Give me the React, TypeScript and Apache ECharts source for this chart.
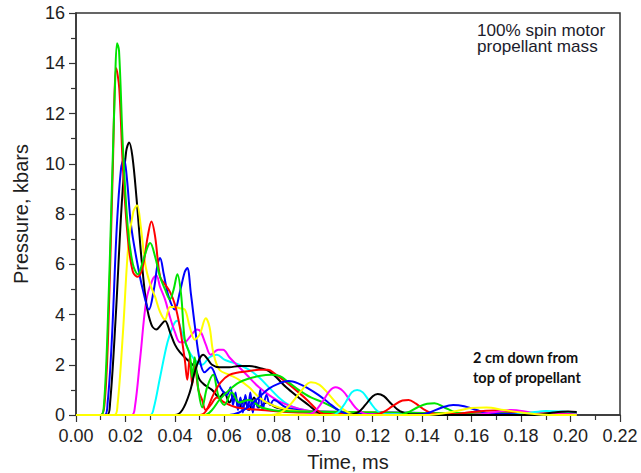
import React, { useEffect, useRef } from "react";
import * as echarts from "echarts";

// ---- data: [time (ms), pressure (kbars)] ----
const red1 = [[0,0],[0.0100,0],[0.0115,0.4],[0.0130,3.2],[0.0148,9.5],[0.0163,13.8],[0.0175,13.0],[0.0190,9.8],[0.0210,7.0],[0.0230,5.7],[0.0250,5.5],[0.0270,5.9],[0.0290,7.1],[0.0305,7.7],[0.0320,7.1],[0.0340,5.5],[0.0360,5.2],[0.0380,4.9],[0.0400,4.4],[0.0420,3.5],[0.0440,2.2],[0.0450,1.4],[0.0460,2.3],[0.0470,1.2],[0.0480,2.0],[0.0495,1.0],[0.0510,0.6],[0.0525,0.2],[0.0545,0.4],[0.0570,0.7],[0.0600,0.5],[0.0650,0.3],[0.0750,0.2],[0.0900,0.1],[0.2025,0.05]];
const green1 = [[0,0],[0.0100,0],[0.0113,0.4],[0.0128,3.5],[0.0145,9.0],[0.0158,13.2],[0.0166,14.8],[0.0174,14.5],[0.0190,10.6],[0.0210,7.4],[0.0230,6.0],[0.0250,5.6],[0.0270,6.1],[0.0290,6.7],[0.0300,6.85],[0.0320,6.3],[0.0340,5.5],[0.0360,5.0],[0.0380,4.6],[0.0395,5.0],[0.0410,5.6],[0.0425,4.8],[0.0440,3.0],[0.0460,2.4],[0.0470,1.5],[0.0480,2.3],[0.0495,1.0],[0.0510,0.3],[0.0530,1.1],[0.0555,1.6],[0.0575,0.8],[0.0600,0.4],[0.0630,0.9],[0.0660,0.5],[0.0700,0.6],[0.0750,0.3],[0.0850,0.15],[0.2025,0.05]];
const blue1 = [[0,0],[0.0115,0],[0.0128,0.5],[0.0145,3.0],[0.0165,7.5],[0.0182,9.8],[0.0194,10.2],[0.0206,9.4],[0.0222,7.6],[0.0245,6.2],[0.0270,5.0],[0.0295,4.2],[0.0315,5.0],[0.0330,6.0],[0.0340,6.25],[0.0355,5.6],[0.0375,4.7],[0.0400,4.2],[0.0420,4.9],[0.0440,5.7],[0.0450,5.85],[0.0465,4.8],[0.0480,3.6],[0.0500,2.2],[0.0520,1.7],[0.0545,1.9],[0.0570,1.4],[0.0590,1.0],[0.0610,0.8],[0.0625,1.1],[0.0635,0.4],[0.0645,0.9],[0.0655,0.2],[0.0665,0.7],[0.0675,0.1],[0.0685,0.8],[0.0695,0.2],[0.0705,0.9],[0.0715,0.1],[0.0725,0.6],[0.0735,0.3],[0.0745,1.0],[0.0755,0.2],[0.0770,0.8],[0.0785,0.4],[0.0800,0.6],[0.0850,0.3],[0.0950,0.15],[0.2025,0.05]];
const black1 = [[0,0],[0.0125,0],[0.0138,0.5],[0.0160,3.8],[0.0185,8.4],[0.0203,10.5],[0.0215,10.85],[0.0228,10.3],[0.0245,8.6],[0.0265,6.2],[0.0285,4.4],[0.0305,3.6],[0.0325,3.4],[0.0345,3.6],[0.0360,3.75],[0.0380,3.3],[0.0400,2.8],[0.0420,2.5],[0.0450,2.2],[0.0480,1.9],[0.0500,1.4],[0.0520,1.2],[0.0550,1.0],[0.0580,0.7],[0.0600,0.9],[0.0620,0.5],[0.0640,0.8],[0.0660,0.3],[0.0680,0.6],[0.0700,0.2],[0.0720,0.7],[0.0740,0.3],[0.0770,0.5],[0.0810,0.3],[0.0900,0.15],[0.2025,0.05]];
const yellow1 = [[0,0],[0.0155,0],[0.0168,0.4],[0.0190,3.3],[0.0212,6.8],[0.0232,8.1],[0.0247,8.35],[0.0262,7.5],[0.0280,6.0],[0.0300,5.2],[0.0320,4.7],[0.0340,4.1],[0.0360,3.8],[0.0380,4.3],[0.0400,4.3],[0.0420,4.25],[0.0440,4.2],[0.0460,3.5],[0.0480,3.0],[0.0500,3.2],[0.0525,3.85],[0.0540,3.5],[0.0555,2.5],[0.0580,1.8],[0.0620,1.6],[0.0660,1.4],[0.0700,1.1],[0.0730,0.8],[0.0770,0.5],[0.0820,0.3],[0.0900,0.15],[0.2025,0.05]];
const magenta1 = [[0,0],[0.0225,0],[0.0238,0.3],[0.0260,2.3],[0.0285,4.6],[0.0310,5.4],[0.0325,5.55],[0.0340,5.1],[0.0360,4.6],[0.0380,3.9],[0.0400,3.3],[0.0420,2.9],[0.0440,2.9],[0.0460,3.1],[0.0490,3.4],[0.0505,3.3],[0.0525,2.8],[0.0545,2.4],[0.0575,2.6],[0.0595,2.6],[0.0620,2.3],[0.0660,1.9],[0.0700,1.5],[0.0740,1.1],[0.0780,0.8],[0.0830,0.5],[0.0900,0.25],[0.1000,0.1],[0.2025,0.05]];
const cyan1 = [[0,0],[0.0300,0],[0.0315,0.3],[0.0340,1.5],[0.0370,2.9],[0.0395,3.6],[0.0410,3.75],[0.0425,3.4],[0.0445,2.8],[0.0465,2.4],[0.0490,2.1],[0.0510,2.0],[0.0540,2.3],[0.0570,2.4],[0.0600,2.2],[0.0630,2.1],[0.0660,2.0],[0.0700,1.8],[0.0740,1.5],[0.0780,1.1],[0.0820,0.7],[0.0860,0.4],[0.0900,0.25],[0.1000,0.1],[0.2025,0.05]];
const black2 = [[0,0],[0.0400,0],[0.0430,0.2],[0.0460,0.9],[0.0480,1.7],[0.0500,2.25],[0.0515,2.4],[0.0530,2.25],[0.0550,2.0],[0.0580,1.9],[0.0620,1.9],[0.0660,1.95],[0.0700,1.95],[0.0750,1.85],[0.0780,1.75],[0.0810,1.5],[0.0850,1.1],[0.0900,0.7],[0.0940,0.4],[0.0980,0.1],[0.1010,0.03],[0.2025,0.03]];
const red2 = [[0,0],[0.0500,0],[0.0525,0.15],[0.0555,0.8],[0.0585,1.3],[0.0620,1.6],[0.0660,1.7],[0.0700,1.75],[0.0740,1.8],[0.0775,1.8],[0.0810,1.6],[0.0850,1.3],[0.0900,0.9],[0.0940,0.55],[0.0970,0.25],[0.1000,0.05],[0.2025,0.03]];
const green2 = [[0,0],[0.0520,0],[0.0550,0.2],[0.0580,0.6],[0.0620,1.0],[0.0660,1.3],[0.0700,1.45],[0.0740,1.55],[0.0790,1.6],[0.0825,1.55],[0.0860,1.3],[0.0900,1.0],[0.0950,0.7],[0.1000,0.5],[0.1040,0.3],[0.1080,0.12],[0.1120,0.04],[0.2025,0.03]];
const blue2 = [[0,0],[0.0620,0],[0.0660,0.1],[0.0700,0.35],[0.0740,0.7],[0.0780,1.05],[0.0820,1.25],[0.0860,1.35],[0.0900,1.25],[0.0940,1.05],[0.0980,0.8],[0.1020,0.5],[0.1060,0.2],[0.1100,0.05],[0.2025,0.03]];
const yellow2 = [[0,0],[0.0790,0],[0.0830,0.1],[0.0870,0.45],[0.0910,0.95],[0.0950,1.3],[0.0985,1.2],[0.1020,0.85],[0.1060,0.4],[0.1100,0.1],[0.1130,0],[0.2025,0]];
const magenta2 = [[0,0],[0.0920,0],[0.0960,0.1],[0.0995,0.5],[0.1025,0.95],[0.1050,1.1],[0.1080,0.95],[0.1110,0.55],[0.1140,0.2],[0.1180,0.03],[0.2025,0.03]];
const cyan2 = [[0,0],[0.1030,0],[0.1060,0.1],[0.1090,0.5],[0.1115,0.9],[0.1137,1.0],[0.1160,0.9],[0.1190,0.5],[0.1220,0.15],[0.1260,0.03],[0.2025,0.03]];
const black3 = [[0,0],[0.1100,0],[0.1140,0.1],[0.1170,0.4],[0.1200,0.75],[0.1220,0.84],[0.1245,0.75],[0.1275,0.45],[0.1310,0.15],[0.1350,0.03],[0.2025,0.03]];
const red3 = [[0,0],[0.1200,0],[0.1240,0.1],[0.1280,0.35],[0.1320,0.58],[0.1345,0.6],[0.1375,0.45],[0.1410,0.2],[0.1450,0.05],[0.2025,0.03]];
const green3 = [[0,0],[0.1300,0],[0.1340,0.1],[0.1380,0.3],[0.1420,0.45],[0.1450,0.47],[0.1490,0.3],[0.1530,0.12],[0.1570,0.03],[0.2025,0.03]];
const blue3 = [[0,0],[0.1380,0],[0.1430,0.1],[0.1480,0.3],[0.1525,0.4],[0.1570,0.35],[0.1620,0.2],[0.1670,0.06],[0.2025,0.03]];
const red4 = [[0,0],[0.1500,0],[0.1600,0.12],[0.1700,0.18],[0.1800,0.1],[0.1900,0.05],[0.2025,0.05]];
const magenta3 = [[0,0],[0.1600,0],[0.1680,0.1],[0.1760,0.2],[0.1840,0.1],[0.1920,0.03],[0.2025,0.03]];
const cyan3 = [[0,0],[0.1750,0],[0.1830,0.08],[0.1900,0.16],[0.1970,0.14],[0.2025,0.1]];
const black4 = [[0,0],[0.1850,0],[0.1930,0.1],[0.1990,0.14],[0.2025,0.12]];
const yellow3 = [[0,0],[0.1400,0],[0.1450,0.02],[0.1520,0.12],[0.1600,0.28],[0.1660,0.3],[0.1730,0.2],[0.1800,0.1],[0.1880,0.02],[0.1950,0],[0.2025,0]];

const RED = "#ff0000";
const GREEN = "#00e400";
const BLUE = "#0000ff";
const BLACK = "#000000";
const YELLOW = "#ffff00";
const MAGENTA = "#ff00ff";
const CYAN = "#00ffff";

const curves: [string, number[][], string][] = [
  ["cyan1", cyan1, CYAN],
  ["magenta1", magenta1, MAGENTA],
  ["black1", black1, BLACK],
  ["blue1", blue1, BLUE],
  ["yellow1", yellow1, YELLOW],
  ["red1", red1, RED],
  ["green1", green1, GREEN],
  ["black2", black2, BLACK],
  ["red2", red2, RED],
  ["green2", green2, GREEN],
  ["blue2", blue2, BLUE],
  ["yellow2", yellow2, YELLOW],
  ["magenta2", magenta2, MAGENTA],
  ["cyan2", cyan2, CYAN],
  ["black3", black3, BLACK],
  ["red3", red3, RED],
  ["green3", green3, GREEN],
  ["blue3", blue3, BLUE],
  ["red4", red4, RED],
  ["magenta3", magenta3, MAGENTA],
  ["cyan3", cyan3, CYAN],
  ["black4", black4, BLACK],
  ["yellow3", yellow3, YELLOW],
];

const X_TITLE = "Time, ms";
const Y_TITLE = "Pressure, kbars";
const NOTE_TOP = "100% spin motor\npropellant mass";
const NOTE_BOTTOM = "2 cm down from\ntop of propellant";

export default function App() {
  const ref = useRef<HTMLDivElement>(null);
  useEffect(() => {
    const chart = echarts.init(ref.current!, null, { renderer: "svg" });
    const axisColor = "#333333";
    const labelFont = { color: "#1e1e1e", fontFamily: "Liberation Sans", fontSize: 18 };
    chart.setOption({
      animation: false,
      backgroundColor: "#ffffff",
      grid: {
        left: 76,
        right: 21,
        top: 13,
        bottom: 58,
        show: true,
        borderColor: axisColor,
        borderWidth: 1.5,
        backgroundColor: "transparent",
        containLabel: false,
        outerBoundsMode: "none",
      },
      xAxis: {
        type: "value",
        min: 0,
        max: 0.22,
        interval: 0.02,
        name: X_TITLE,
        nameLocation: "middle",
        nameGap: 37,
        nameTextStyle: { color: "#1e1e1e", fontFamily: "Liberation Sans", fontSize: 20 },
        axisLine: { show: true, lineStyle: { color: axisColor, width: 1.5 } },
        axisTick: { show: true, length: 7, lineStyle: { color: axisColor, width: 1.2 } },
        minorTick: { show: true, splitNumber: 2, length: 5, lineStyle: { color: axisColor, width: 1.2 } },
        splitLine: { show: false },
        axisLabel: { ...labelFont, margin: 12, formatter: (v: number) => v.toFixed(2) },
      },
      yAxis: {
        type: "value",
        min: 0,
        max: 16,
        interval: 2,
        name: Y_TITLE,
        nameLocation: "middle",
        nameGap: 45,
        nameTextStyle: { color: "#1e1e1e", fontFamily: "Liberation Sans", fontSize: 20 },
        axisLine: { show: true, lineStyle: { color: axisColor, width: 1.5 } },
        axisTick: { show: true, length: 7, lineStyle: { color: axisColor, width: 1.2 } },
        minorTick: { show: true, splitNumber: 2, length: 5, lineStyle: { color: axisColor, width: 1.2 } },
        splitLine: { show: false },
        axisLabel: { ...labelFont, margin: 11 },
      },
      series: curves.map(([name, data, color], i) => ({
        name,
        type: "line",
        data,
        smooth: 0.35,
        showSymbol: false,
        symbol: "none",
        clip: i !== curves.length - 1,
        lineStyle: { color, width: 2 },
        itemStyle: { color },
        z: 3,
      })),
      graphic: [
        {
          type: "text",
          x: 477,
          y: 23,
          z: 10,
          scaleX: 1.07,
          style: {
            text: NOTE_TOP,
            font: "16px 'Liberation Sans'",
            fill: "#1c1c2c",
            lineHeight: 16,
            verticalAlign: "top",
          },
        },
        {
          type: "text",
          x: 473,
          y: 347,
          z: 10,
          style: {
            text: NOTE_BOTTOM,
            font: "bold 14.5px Lato",
            fill: "#111111",
            lineHeight: 20,
            verticalAlign: "top",
          },
        },
      ],
    });
    return () => chart.dispose();
  }, []);
  return (
    <div
      ref={ref}
      style={{ position: "absolute", left: 0, top: 0, width: 641, height: 473, background: "#fff" }}
    />
  );
}
